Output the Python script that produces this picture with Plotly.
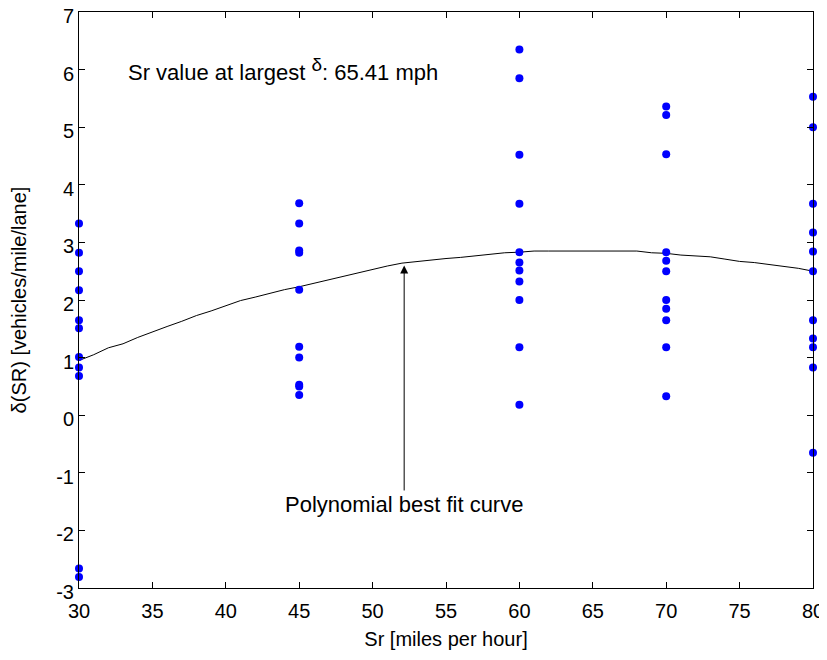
import plotly.graph_objects as go

x30 = [3.33, 2.82, 2.50, 2.17, 1.65, 1.51, 1.01, 0.83, 0.68, -2.66, -2.81]
x45 = [3.68, 3.33, 2.86, 2.82, 2.18, 1.19, 1.00, 0.53, 0.50, 0.35]
x60 = [6.35, 5.85, 4.52, 3.67, 2.83, 2.65, 2.51, 2.32, 2.00, 1.18, 0.18]
x70 = [5.36, 5.21, 4.53, 2.83, 2.68, 2.50, 2.00, 1.85, 1.65, 1.18, 0.33]
x80 = [5.53, 5.00, 3.67, 3.17, 2.84, 2.50, 1.65, 1.33, 1.18, 0.83, -0.65]

speeds = [30, 45, 60, 70, 80]
groups = [x30, x45, x60, x70, x80]

fit_x = list(range(30, 81))
fit_y = [0.95, 1.05, 1.17, 1.24, 1.35, 1.45, 1.54, 1.63, 1.73, 1.81,
         1.90, 1.99, 2.05, 2.12, 2.18, 2.23, 2.29, 2.35, 2.41, 2.48,
         2.54, 2.59, 2.64, 2.67, 2.69, 2.72, 2.74, 2.77, 2.80, 2.82,
         2.83, 2.85, 2.85, 2.85, 2.85, 2.85, 2.85, 2.85, 2.85, 2.82,
         2.81, 2.78, 2.77, 2.75, 2.71, 2.67, 2.65, 2.62, 2.59, 2.55,
         2.50]

x_ticks = [30, 35, 40, 45, 50, 55, 60, 65, 70, 75, 80]
y_ticks = [-3, -2, -1, 0, 1, 2, 3, 4, 5, 6, 7]
y_tick_text = ["-3", "-2", "-1", "0", "1", "2", "3", "4", "5", "6", "7"]

px_, py_ = [], []
for s, g in zip(speeds, groups):
    px_ += [s] * len(g)
    py_ += g

FONT = "Liberation Sans, Arial, sans-serif"

fig = go.Figure()
fig.add_trace(go.Scatter(x=fit_x, y=fit_y, mode="lines",
                         line=dict(color="black", width=1), cliponaxis=False,
                         showlegend=False))
fig.add_trace(go.Scatter(x=px_, y=py_, mode="markers",
                         marker=dict(color="#0000FF", size=8), cliponaxis=False,
                         showlegend=False))

fig.add_annotation(x=33.2, y=6.0, xref="x", yref="y", xanchor="left",
                   text="Sr value at largest <sup><span style='font-size:19px'>δ</span></sup>: 65.41 mph",
                   showarrow=False, font=dict(size=22, color="black", family=FONT))
fig.add_annotation(x=52.15, y=2.6, ax=52.15, ay=-1.55, xref="x", yref="y",
                   axref="x", ayref="y", text="Polynomial best fit curve",
                   showarrow=True, arrowhead=2, arrowsize=1.6, arrowwidth=1,
                   arrowcolor="black",
                   font=dict(size=22, color="black", family=FONT))

axis_common = dict(showline=True, linecolor="black", linewidth=1, mirror="ticks",
                   ticks="inside", ticklen=6, tickcolor="black", showgrid=False,
                   zeroline=False, automargin=False, ticklabeloverflow="allow",
                   tickfont=dict(size=20, color="black", family=FONT))

fig.update_xaxes(range=[30, 80], tickvals=x_ticks, ticklabelstandoff=5,
                 title=dict(text="Sr [miles per hour]", standoff=10,
                            font=dict(size=20, color="black", family=FONT)),
                 **axis_common)
fig.update_yaxes(range=[-3, 7], tickvals=y_ticks, ticktext=y_tick_text,
                 ticklabelshift=4,
                 title=dict(text="δ(SR) [vehicles/mile/lane]", standoff=28,
                            font=dict(size=20, color="black", family=FONT)),
                 **axis_common)

fig.update_layout(width=819, height=652, plot_bgcolor="white", paper_bgcolor="white",
                  margin=dict(l=71, r=14, t=4, b=72), font=dict(family=FONT))

fig.write_html("out.html")
